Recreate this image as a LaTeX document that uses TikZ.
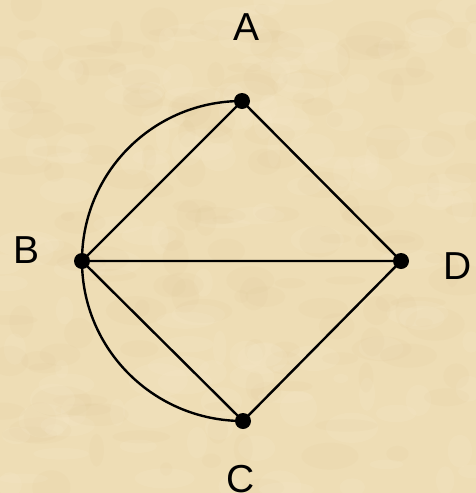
\documentclass[tikz,border=0pt]{standalone}
\usepackage{fontspec}
\setmainfont{Liberation Sans}
\definecolor{parch}{RGB}{238,221,181}
\definecolor{parchdark}{RGB}{222,198,150}
\definecolor{parchlight}{RGB}{247,234,204}
\tikzset{
  vertex/.style={circle,fill=black,inner sep=0pt,minimum size=16pt},
  edge/.style={line width=2.4pt,black},
  lbl/.style={font=\fontsize{39}{39}\selectfont,inner sep=0pt}
}
\begin{document}
\begin{tikzpicture}[x=1pt,y=-1pt]
\fill[parch] (0,0) rectangle (476,493);
\useasboundingbox (0,0) rectangle (476,493);
\pgfmathsetseed{7}
\foreach \i in {1,...,300}{
  \pgfmathsetmacro{\px}{rnd*476}
  \pgfmathsetmacro{\py}{rnd*493}
  \pgfmathsetmacro{\rx}{6+rnd*26}
  \pgfmathsetmacro{\ry}{4+rnd*14}
  \pgfmathsetmacro{\sel}{rnd}
  \ifdim\sel pt<0.5pt
    \fill[parchdark,opacity=0.10] (\px,\py) ellipse [x radius=\rx, y radius=\ry];
  \else
    \fill[parchlight,opacity=0.18] (\px,\py) ellipse [x radius=\rx, y radius=\ry];
  \fi
}
\node[vertex] (A) at (242,101) {};
\node[vertex] (B) at (82,261) {};
\node[vertex] (C) at (243,421) {};
\node[vertex] (D) at (401,261) {};
\node[lbl] (LA) at (247,27) {A};
\node[lbl] (LB) at (27,250) {B};
\node[lbl] (LC) at (241,479) {C};
\node[lbl] (LD) at (458,266) {D};
\draw[edge] (A.center) -- (B.center) -- (D.center) -- (A.center);
\draw[edge] (B.center) -- (C.center) -- (D.center);
\draw[edge] (A.center) to[out=180,in=90] (B.center);
\draw[edge] (B.center) to[out=-90,in=180] (C.center);
\end{tikzpicture}
\end{document}
